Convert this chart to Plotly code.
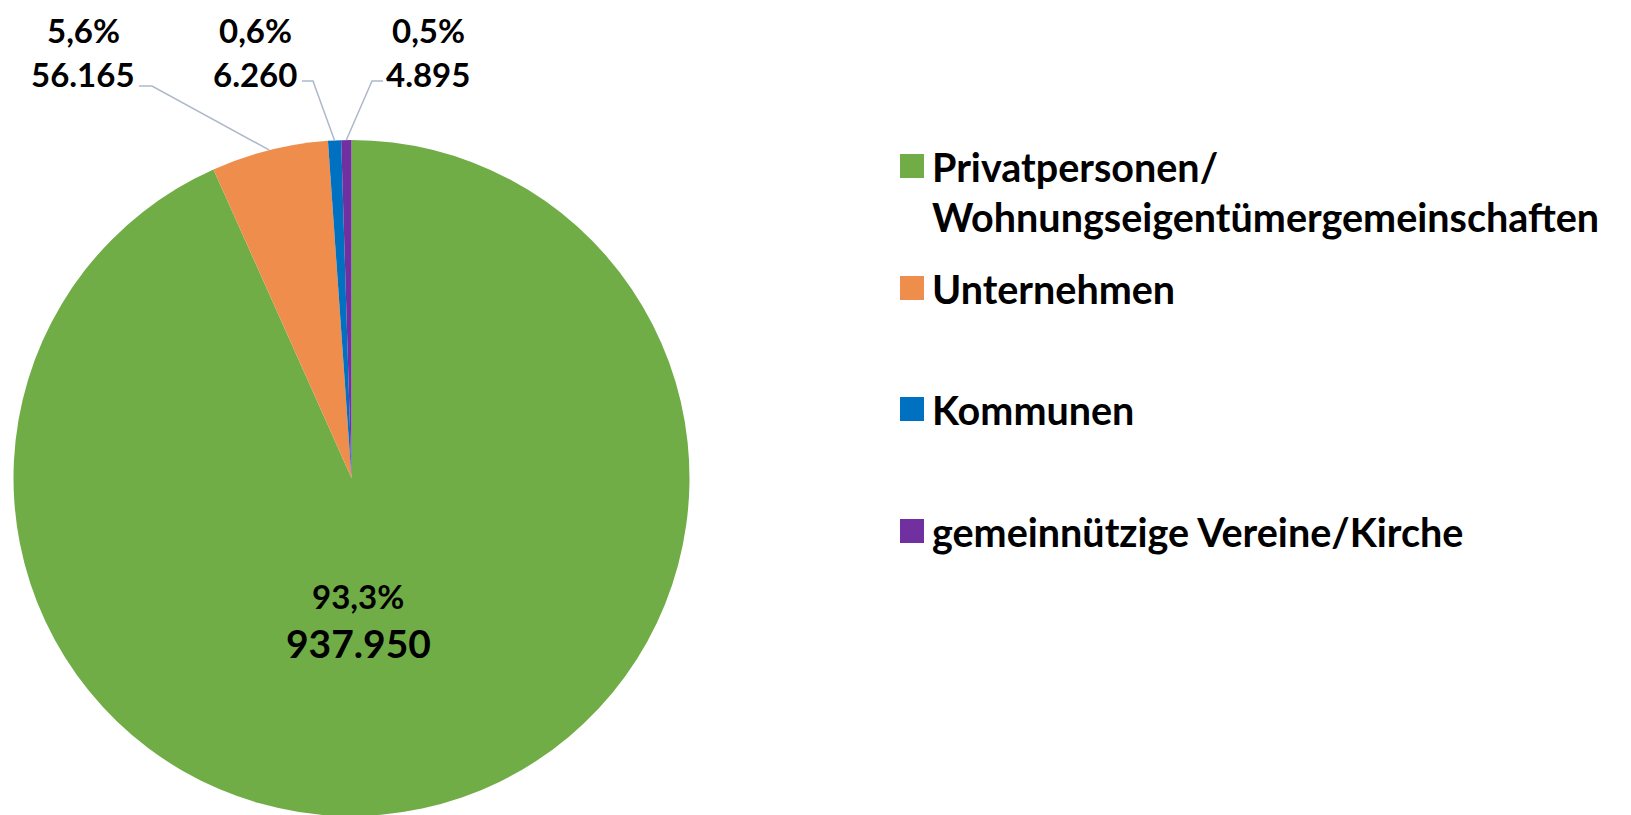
import math
import plotly.graph_objects as go

# ---- data ----
categories = ["Privatpersonen/<br>Wohnungseigentümergemeinschaften", "Unternehmen", "Kommunen",
              "gemeinnützige Vereine/Kirche"]
legend_lines = [["Privatpersonen/", "Wohnungseigentümergemeinschaften"], ["Unternehmen"], ["Kommunen"],
                ["gemeinnützige Vereine/Kirche"]]
values = [937950, 56165, 6260, 4895]
pct_labels = ["93,3%", "5,6%", "0,6%", "0,5%"]
value_labels = ["937.950", "56.165", "6.260", "4.895"]
colors = ["#70AD47", "#EF8E4C", "#0070C0", "#7030A0"]

# ---- layout geometry (pixels, page coordinates) ----
W, H = 1631, 815
OX, OY = 8, 8  # page offset of the plot div (body margin)
pie_left, pie_right, pie_top, pie_bottom = 13.5, 689.5, 140, 816
cx = (pie_left + pie_right) / 2
R = (pie_right - pie_left) / 2
cy = pie_top + R


def px(x):
    return (x - OX) / W


def py(y):
    return 1 - (y - OY) / H


FONT = "Lato, Roboto, Liberation Sans, sans-serif"

fig = go.Figure(go.Pie(
    labels=categories,
    values=values,
    marker=dict(colors=colors, line=dict(width=0)),
    sort=False,
    direction="clockwise",
    rotation=0,
    textinfo="none",
    hoverinfo="label+value+percent",
    showlegend=False,
    domain=dict(x=[px(pie_left), px(pie_right)], y=[max(0, py(pie_bottom)), py(pie_top)]),
))

annotations = []
shapes = []

# angles (clockwise from 12 o'clock) of slice middles, from data
total = sum(values)
mids = []
acc = 0
for v in values:
    mids.append(math.radians((acc + v / 2) / total * 360))
    acc += v

# inside label for the large slice
inside_pos = [(358, 596), (358, 643)]
annotations.append(dict(x=px(inside_pos[0][0]), y=py(inside_pos[0][1]), xref="paper", yref="paper",
                        text=pct_labels[0], showarrow=False, xanchor="center", yanchor="middle",
                        font=dict(family=FONT, size=33, color="#000000", weight="bold")))
annotations.append(dict(x=px(inside_pos[1][0]), y=py(inside_pos[1][1]), xref="paper", yref="paper",
                        text=value_labels[0], showarrow=False, xanchor="center", yanchor="middle",
                        font=dict(family=FONT, size=39, color="#000000", weight="bold")))

# outside labels with leader lines for the small slices
label_centers = {1: 83, 2: 255, 3: 428}
label_rows = (30, 74)
leader = {1: ((152, 86), (139, 86)), 2: ((313, 81), (302, 81)), 3: ((372, 81), (383, 81))}
for i in (1, 2, 3):
    xc = label_centers[i]
    annotations.append(dict(x=px(xc), y=py(label_rows[0]), xref="paper", yref="paper",
                            text=pct_labels[i], showarrow=False, xanchor="center", yanchor="middle",
                            font=dict(family=FONT, size=33, color="#000000", weight="bold")))
    annotations.append(dict(x=px(xc), y=py(label_rows[1]), xref="paper", yref="paper",
                            text=value_labels[i], showarrow=False, xanchor="center", yanchor="middle",
                            font=dict(family=FONT, size=33, color="#000000", weight="bold")))
    ex = cx + R * math.sin(mids[i])
    ey = cy - R * math.cos(mids[i])
    (bx, by), (tx, ty) = leader[i]
    path = f"M {px(ex)},{py(ey)} L {px(bx)},{py(by)} L {px(tx)},{py(ty)}"
    shapes.append(dict(type="path", xref="paper", yref="paper", path=path,
                       line=dict(color="#ADB9CA", width=1.5), layer="above"))

# legend (drawn manually to match spacing)
leg_sym_x0, leg_sym_x1 = 900, 924
leg_sym_half = 12
leg_text_x = 930
leg_first_y = [166, 288, 409, 531]
leg_line_gap = 50
for i, lines in enumerate(legend_lines):
    yc = leg_first_y[i]
    shapes.append(dict(type="rect", xref="paper", yref="paper",
                       x0=px(leg_sym_x0), x1=px(leg_sym_x1),
                       y0=py(yc - leg_sym_half), y1=py(yc + leg_sym_half),
                       fillcolor=colors[i], line=dict(width=0)))
    for j, t in enumerate(lines):
        annotations.append(dict(x=px(leg_text_x), y=py(yc + j * leg_line_gap), xref="paper", yref="paper",
                                text=t, showarrow=False, xanchor="left", yanchor="middle",
                                font=dict(family=FONT, size=39.5, color="#000000", weight="bold")))

fig.update_layout(
    width=W, height=H,
    margin=dict(l=0, r=0, t=0, b=0),
    paper_bgcolor="#FFFFFF",
    plot_bgcolor="#FFFFFF",
    annotations=annotations,
    shapes=shapes,
    showlegend=False,
)

fig.write_html("out.html")
